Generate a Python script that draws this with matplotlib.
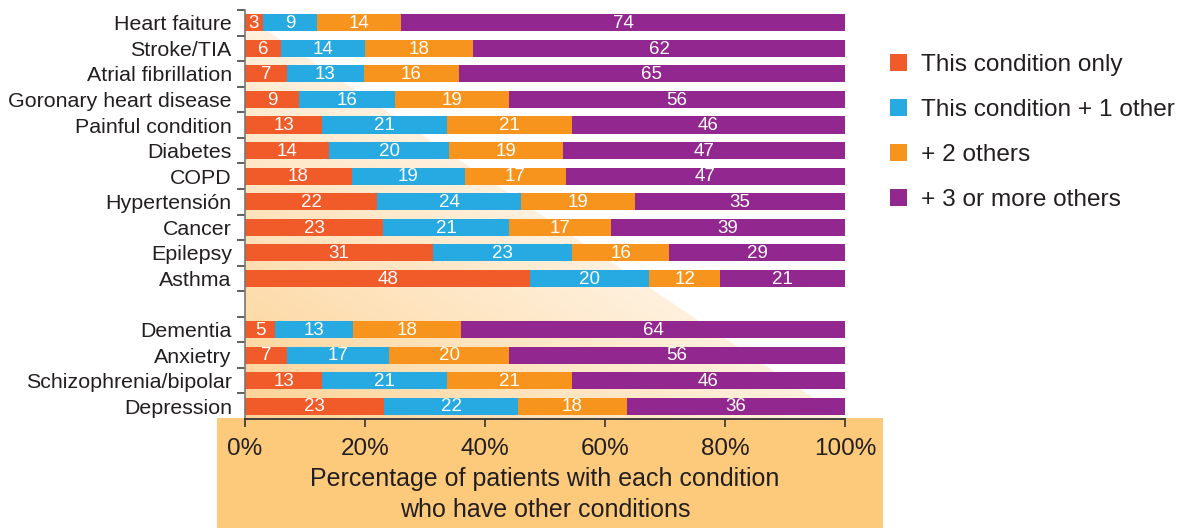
import matplotlib
matplotlib.use('Agg')
import matplotlib.pyplot as plt
import numpy as np
from matplotlib.patches import Polygon, Rectangle
from matplotlib import font_manager
from matplotlib.colors import to_rgb

categories = ["Heart faiture", "Stroke/TIA", "Atrial fibrillation", "Goronary heart disease",
              "Painful condition", "Diabetes", "COPD", "Hypertensión", "Cancer", "Epilepsy",
              "Asthma", "Dementia", "Anxietry", "Schizophrenia/bipolar", "Depression"]
only = [3, 6, 7, 9, 13, 14, 18, 22, 23, 31, 48, 5, 7, 13, 23]
plus1 = [9, 14, 13, 16, 21, 20, 19, 24, 21, 23, 20, 13, 17, 21, 22]
plus2 = [14, 18, 16, 19, 21, 19, 17, 19, 17, 16, 12, 18, 20, 21, 18]
plus3 = [74, 62, 65, 56, 46, 47, 47, 35, 39, 29, 21, 64, 56, 46, 36]
series_names = ["This condition only", "This condition + 1 other", "+ 2 others", "+ 3 or more others"]
colors = ["#F15A29", "#27AAE1", "#F7941D", "#92278F"]
xticklabels = ["0%", "20%", "40%", "60%", "80%", "100%"]

positions = list(range(11)) + [12, 13, 14, 15]

base_font = "Liberation Sans"
try:
    font_manager.findfont("Liberation Sans Narrow", fallback_to_default=False)
    narrow_font = "Liberation Sans Narrow"
except Exception:
    narrow_font = base_font

plt.rcParams['font.family'] = [base_font, 'DejaVu Sans']

fig = plt.figure(figsize=(11.85, 5.28), dpi=100)
W, H = 1185, 528

# orange box under the x axis
fig.patches.append(Rectangle((217 / W, 0), (883 - 217) / W, (528 - 418) / H,
                             transform=fig.transFigure, facecolor="#FDCA7B",
                             edgecolor="none", zorder=0))

ax = fig.add_axes([245 / W, 1 - 419 / H, 600 / W, 409 / H])
ax.set_zorder(2)
ax.set_facecolor("none")
ax.set_xlim(0, 100)
ax.set_ylim(15.5, -0.5)

# gradient triangle
tri = Polygon([(0, -0.25), (0, 15.5), (100, 15.5)], closed=True, transform=ax.transData,
              facecolor="none", edgecolor="none")
ax.add_patch(tri)
nx, ny = 300, 300
xs = np.linspace(0, 100, nx)
ys = np.linspace(-0.5, 15.5, ny)
X, Y = np.meshgrid(xs, ys)
px = X * 6.0
py = (Y + 0.5) * (409 / 16)
d = (py - (7 + (409 - 7) / 600 * px))
t = np.clip(d / 402.0, 0, 1)
c0 = np.array(to_rgb("#FFF1DE"))
c1 = np.array(to_rgb("#FDD396"))
img = c0[None, None, :] * (1 - t[..., None]) + c1[None, None, :] * t[..., None]
im = ax.imshow(img, extent=(0, 100, 15.5, -0.5), origin='upper', aspect='auto',
               zorder=0, interpolation='bilinear')
im.set_clip_path(tri)

data = np.array([only, plus1, plus2, plus3], dtype=float)
totals = data.sum(axis=0)
norm = data / totals * 100
left = np.zeros(len(categories))
for i in range(4):
    ax.barh(positions, norm[i], left=left, height=0.67, color=colors[i],
            edgecolor="none", zorder=2, label=series_names[i])
    for j, p in enumerate(positions):
        ax.text(left[j] + norm[i][j] / 2, p + 0.03, str(int(data[i][j])), ha='center', va='center',
                color='white', fontsize=13.5, family=[narrow_font, 'DejaVu Sans'], zorder=3)
    left = left + norm[i]

bounds = [-0.5] + [p + 0.5 for p in range(15)]
ax.set_yticks(bounds)
ax.set_yticklabels([])
ax.set_yticks(positions, minor=True)
ax.set_yticklabels(categories, minor=True, fontsize=15.4, color="#231F20")
ax.tick_params(axis='y', which='major', length=6, width=1.2, color="#444444", direction='out')
ax.tick_params(axis='y', which='minor', length=0, pad=9.5)

ax.set_xticks([0, 20, 40, 60, 80, 100])
ax.set_xticklabels(xticklabels, fontsize=17.5, color="#231F20")
ax.tick_params(axis='x', length=6, width=1.2, color="#333333", direction='out', pad=7.5)
ax.set_xlabel("Percentage of patients with each condition\nwho have other conditions",
              fontsize=18, color="#231F20", linespacing=1.4, labelpad=5)

for s in ['top', 'right']:
    ax.spines[s].set_visible(False)
ax.spines['left'].set_color("#777777")
ax.spines['left'].set_linewidth(1.2)
ax.spines['bottom'].set_color("#333333")
ax.spines['bottom'].set_linewidth(1.3)

handles = [Rectangle((0, 0), 1, 1, facecolor=c, edgecolor='none') for c in colors]
leg = fig.legend(handles, series_names, loc='upper left', bbox_to_anchor=(880 / W, 1 - 44 / H),
                 frameon=False, fontsize=17.6, handlelength=0.72, handleheight=0.72,
                 handletextpad=0.55, labelspacing=0.93, borderaxespad=0)
for txt in leg.get_texts():
    txt.set_color("#231F20")

fig.savefig("out.png", dpi=100)
